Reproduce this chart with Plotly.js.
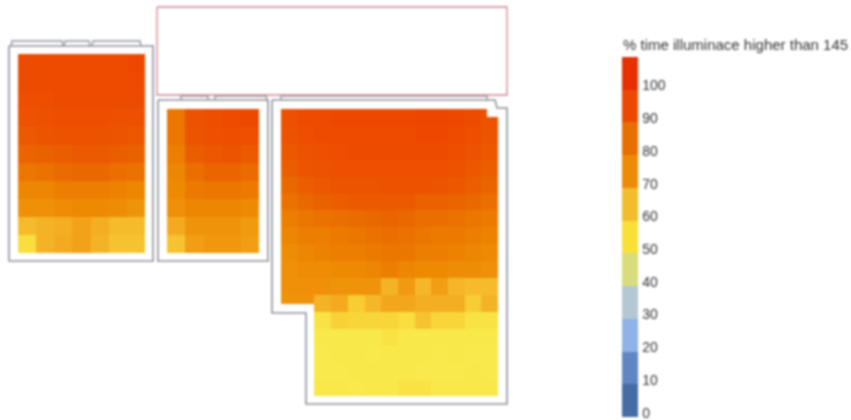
<!DOCTYPE html>
<html>
<head>
<meta charset="utf-8">
<script src="https://cdn.plot.ly/plotly-3.0.1.min.js"></script>
<style>html,body{margin:0;padding:0;background:#fff}#chart{width:851px;height:420px;filter:blur(0.8px)}</style>
</head>
<body>
<div id="chart"></div>
<script>
// Values: % time illuminance higher than 145, per sensor cell, top row first
const room1Values = [
 [94,94,95,95,95,95,96],
 [94,94,95,95,95,95,95],
 [93,93,94,94,94,94,94],
 [91,92,93,93,93,92,92],
 [88,90,91,91,91,90,89],
 [85,86,87,88,88,87,86],
 [80,81,83,84,84,82,81],
 [76,76,78,78,78,77,76],
 [73,73,74,75,75,74,72],
 [62,64,65,68,65,62,62],
 [54,64,66,68,64,60,60]
];
const room2Values = [
 [80,91,93,95,96],
 [80,90,92,93,92],
 [78,87,89,90,88],
 [76,82,85,85,83],
 [75,79,80,80,79],
 [73,76,76,76,75],
 [66,72,72,72,70],
 [60,69,71,71,69]
];
const room3Values = [
 [92,94,95,96,96,96,96,96,97,97,96,94,91],
 [91,93,94,95,95,95,95,95,96,96,95,93,90],
 [89,91,92,93,94,94,94,94,94,94,93,91,89],
 [87,90,91,92,92,92,92,92,92,92,91,89,87],
 [84,87,89,90,90,90,91,91,91,90,89,87,85],
 [81,84,86,87,88,88,88,88,86,86,85,84,82],
 [78,80,81,82,83,84,85,84,82,82,81,80,79],
 [76,78,78,79,80,81,82,81,80,79,79,78,77],
 [74,76,77,78,78,79,80,80,78,78,77,76,75],
 [73,74,74,75,75,76,78,76,75,75,74,74,73],
 [73,73,73,72,72,72,64,70,63,69,63,62,62],
 [72,72,64,66,58,63,67,67,65,65,65,58,64],
 [null,null,53,57,56,56,56,54,60,56,56,53,53],
 [null,null,52,52,52,52,53,52,52,52,52,52,52],
 [null,null,51,52,52,51,52,52,52,51,52,51,51],
 [null,null,51,51,52,52,52,52,51,51,51,52,51],
 [null,null,52,52,51,52,52,53,53,52,52,52,52]
];
// Cell edges on the plan
const room1X = [18,36.1,54.3,72.4,90.6,108.7,126.9,145];
const room1Y = [54,72,90,108,126,145,163,181,199,217,235,253];
const room2X = [167,185.4,203.8,222.2,240.6,259];
const room2Y = [109,127,145,163,181,199,217,235,253];
const room3X = [281,297.7,314.4,331.1,347.8,364.5,381.2,397.9,414.6,431.3,448,464.7,481.4,498];
const room3Y = [109,125.9,142.8,159.7,176.6,193.5,210.4,227.3,244.2,261.1,278,295,312,329,346,363,380,396];

// Plan outlines
const wall1X = [9,153,153,9,9];
const wall1Y = [46,46,261,261,46];
const wall2X = [158,268,268,158,158];
const wall2Y = [100,100,261,261,100];
const wall3X = [272,495,497,507,507,306,306,272,272];
const wall3Y = [100,100,108,108,404,404,313,313,100];
const windows1X = [11,12,62,63,null,64,65,89,90,null,92,93,140,141];
const windows1Y = [46,41,41,46,null,46,41,41,46,null,46,41,41,46];
const windows2X = [181,181,208,208,null,215,215,266,267];
const windows2Y = [100,96,96,100,null,100,96,96,100];
const windows3X = [281,281,487,487];
const windows3Y = [100,96,96,101];
const atriumX = [157,507,507,157,157];
const atriumY = [7,7,95,95,7];
// Parts of the grid that lie outside room 3
const notchX = [487,499,499,487,487];
const notchY = [108,108,117,117,108];
const cutX = [280,314,314,280,280];
const cutY = [304,304,313,313,304];

// Legend
const legendTitle = '% time illuminace higher than 145';
const legendTicks = [0,10,20,30,40,50,60,70,80,90,100];
const legendBandColors = ['#466ca6','#5f86c2','#8fb2e8','#b4c8d4','#d9dc7c','#f8e038','#f2bd2c','#ec8c06','#e86e00','#ec4800','#e63000'];
const cellStops = [[0,'#466ca6'],[30,'#b4c8d4'],[45,'#d9dc7c'],[50,'#faea50'],[52,'#f9e84a'],[54,'#f9de3e'],[58,'#f7cc34'],[62,'#f5bb2c'],[66,'#f3aa20'],[70,'#f09a10'],[75,'#ee8a02'],[80,'#eb7600'],[85,'#ea6400'],[90,'#ec5400'],[96,'#ee4800'],[110,'#e63000']];

const zMax = 110;
const cellScale = cellStops.map(s => [s[0]/zMax, s[1]]);
const bandScale = [];
legendBandColors.forEach((c,i) => {
  bandScale.push([i/legendBandColors.length, c]);
  bandScale.push([(i+1)/legendBandColors.length, c]);
});

function room(x,y,z){
  return {type:'heatmap', x:x, y:y, z:z, zmin:0, zmax:zMax, colorscale:cellScale, showscale:false, hoverinfo:'z', xgap:0, ygap:0};
}
function line(x,y,color,w){
  return {type:'scatter', mode:'lines', x:x, y:y, line:{color:color,width:w}, hoverinfo:'skip', connectgaps:false};
}
function mask(x,y){
  return {type:'scatter', mode:'lines', x:x, y:y, fill:'toself', fillcolor:'#ffffff', line:{width:0,color:'#ffffff'}, hoverinfo:'skip'};
}
const grey = '#8e919d';
const font = 'Liberation Sans, Arial, sans-serif';
const traces = [
  room(room1X,room1Y,room1Values),
  room(room2X,room2Y,room2Values),
  room(room3X,room3Y,room3Values),
  {type:'heatmap', x:[-200,-100], y:[-200,-100], z:[[0,zMax],[0,zMax]], zmin:0, zmax:zMax, colorscale:bandScale, hoverinfo:'skip',
   colorbar:{x:622/851, xanchor:'left', xpad:0, y:3/420, yanchor:'bottom', ypad:0, len:360/420, lenmode:'fraction', thickness:16, thicknessmode:'pixels',
     outlinewidth:0, borderwidth:0, ticks:'outside', ticklen:2, tickcolor:'rgba(0,0,0,0)', ticklabeloverflow:'allow',
     tickmode:'array', tickvals:legendTicks.map(t=>t+1.3), ticktext:legendTicks.map(String),
     tickfont:{family:font, size:14, color:'#333333'}}},
  mask(notchX,notchY), mask(cutX,cutY),
  line(wall1X,wall1Y,grey,1.6), line(wall2X,wall2Y,grey,1.6), line(wall3X,wall3Y,grey,1.6),
  line(windows1X,windows1Y,grey,1.3), line(windows2X,windows2Y,grey,1.3), line(windows3X,windows3Y,grey,1.3),
  line(atriumX,atriumY,'#d4808c',1.3)
];
const hiddenAxis = {visible:false, showgrid:false, zeroline:false, fixedrange:true};
Plotly.newPlot('chart', traces, {
  width:851, height:420, margin:{l:0,r:0,t:0,b:0,pad:0}, showlegend:false,
  paper_bgcolor:'#ffffff', plot_bgcolor:'#ffffff',
  xaxis:Object.assign({range:[0,851], domain:[0,1]},hiddenAxis),
  yaxis:Object.assign({range:[420,0], domain:[0,1]},hiddenAxis),
  annotations:[{text:legendTitle, xref:'x', yref:'y', x:622, y:44, xanchor:'left', yanchor:'middle', showarrow:false,
    font:{family:font, size:15, color:'#333333'}, borderpad:0}]
}, {displayModeBar:false, staticPlot:true});
</script>
</body>
</html>
